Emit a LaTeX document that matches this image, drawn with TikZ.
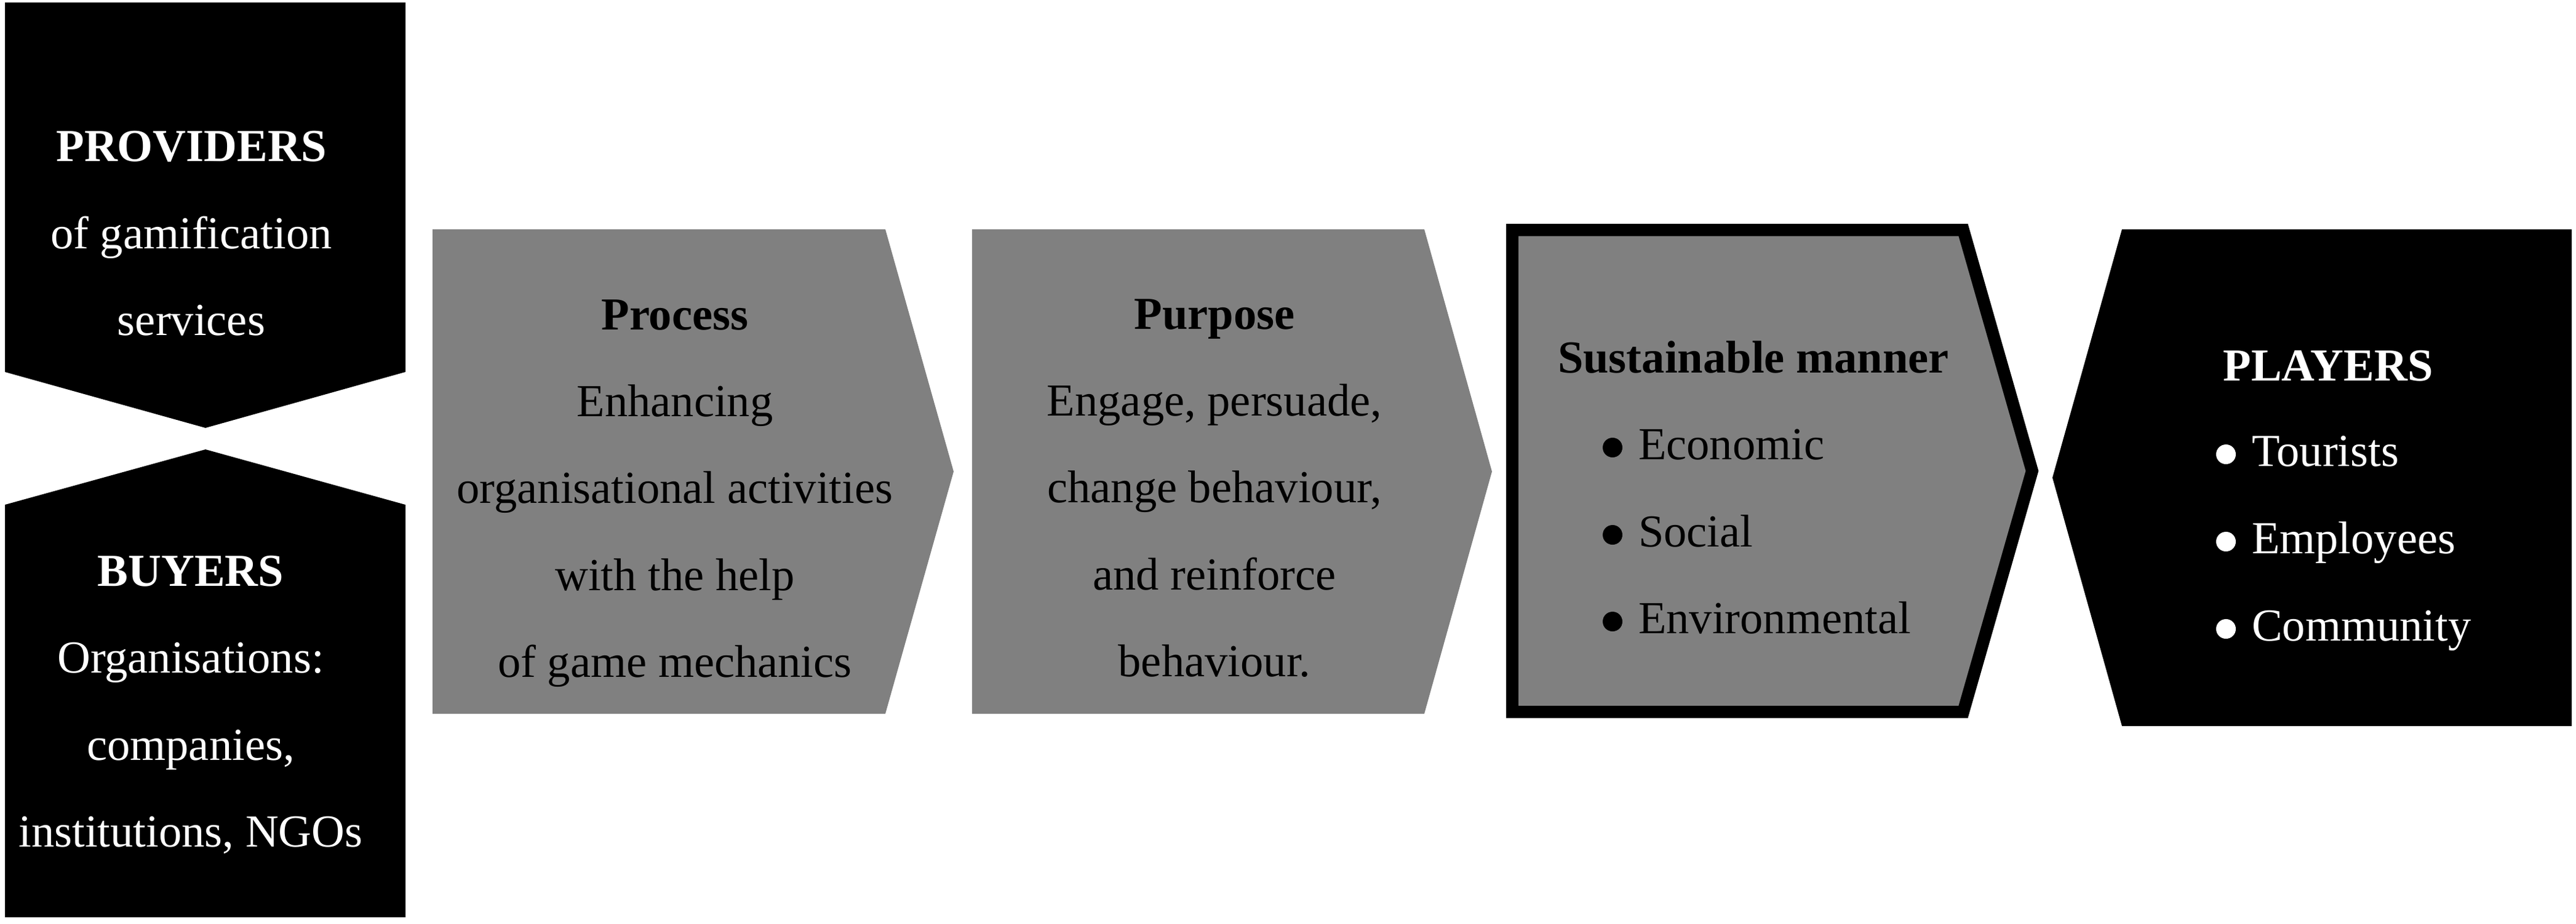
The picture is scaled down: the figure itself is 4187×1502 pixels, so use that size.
\documentclass[tikz,border=0pt]{standalone}
\usepackage{fontspec}
\setmainfont{Liberation Serif}
\definecolor{midgray}{RGB}{128,128,128}
\tikzset{
  blackshape/.style={fill=black, draw=none},
  grayshape/.style={fill=midgray, draw=none},
  framedshape/.style={fill=midgray, draw=black, line width=0.2cm, line join=miter},
  txt/.style={inner sep=0pt, outer sep=0pt, anchor=base, align=center,
    font=\fontsize{21.2}{40.1}\selectfont},
  wtxt/.style={txt, text=white},
  btxt/.style={txt, text=black},
  litem/.style={inner sep=0pt, outer sep=0pt, anchor=base west,
    font=\fontsize{21.2}{40.1}\selectfont},
  dotb/.style={fill=black, draw=none},
  dotw/.style={fill=white, draw=none},
}
\begin{document}
\begin{tikzpicture}[x=0.01cm, y=-0.01cm]
\useasboundingbox (0,0) rectangle (4187,1502);
% shapes
\path[blackshape] (8,4) -- (659,4) -- (659,605) -- (334,696) -- (8,605) -- cycle;
\path[blackshape] (8,821) -- (334,731) -- (659,821) -- (659,1492) -- (8,1492) -- cycle;
\path[grayshape] (703,373) -- (1439,373) -- (1550,767) -- (1439,1161) -- (703,1161) -- cycle;
\path[grayshape] (1580,373) -- (2315,373) -- (2425,767) -- (2315,1161) -- (1580,1161) -- cycle;
\path[framedshape] (2458,374) -- (3191,374) -- (3303,766) -- (3191,1158) -- (2458,1158) -- cycle;
\path[blackshape] (3336,777) -- (3449,373) -- (4180,373) -- (4180,1181) -- (3449,1181) -- cycle;
% providers (anchor: baseline of last line)
\node[wtxt] (prov) at (311,545) {\textbf{PROVIDERS}\\of gamification\\services};
% buyers
\node[wtxt] (buy) at (310,1377) {\textbf{BUYERS}\\Organisations:\\companies,\\institutions, NGOs};
% process
\node[btxt] (proc) at (1097,1101) {\textbf{Process}\\Enhancing\\organisational activities\\with the help\\of game mechanics};
% purpose
\node[btxt] (purp) at (1974,1100) {\textbf{Purpose}\\Engage, persuade,\\change behaviour,\\and reinforce\\behaviour.};
% sustainable
\node[btxt] (sust) at (2850,606) {\textbf{Sustainable manner}};
\node[litem] (econ) at (2663,747) {Economic};
\node[litem] (soc) at (2663,889) {Social};
\node[litem] (env) at (2663,1030) {Environmental};
\fill[dotb] (2621,728) circle (16);
\fill[dotb] (2621,870) circle (16);
\fill[dotb] (2621,1011) circle (16);
% players
\node[wtxt] (play) at (3784,619) {\textbf{PLAYERS}};
\node[litem, text=white] (tour) at (3660,758) {Tourists};
\node[litem, text=white] (empl) at (3660,900) {Employees};
\node[litem, text=white] (comm) at (3660,1042) {Community};
\fill[dotw] (3618,739) circle (16);
\fill[dotw] (3618,881) circle (16);
\fill[dotw] (3618,1023) circle (16);
\end{tikzpicture}
\end{document}
